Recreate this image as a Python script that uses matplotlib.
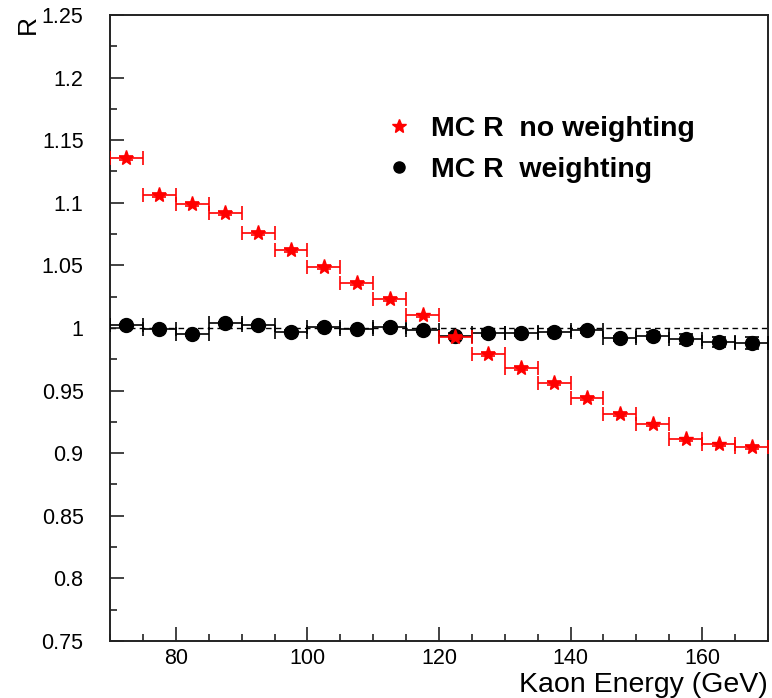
import matplotlib
matplotlib.use("Agg")
import matplotlib.pyplot as plt
import numpy as np
from matplotlib.lines import Line2D
from matplotlib.ticker import MultipleLocator, FuncFormatter

plt.rcParams['font.family'] = ['Liberation Sans', 'DejaVu Sans']

# --- Data: 5 GeV bins from 70 to 170 GeV ---
bin_centers = [72.5, 77.5, 82.5, 87.5, 92.5, 97.5, 102.5, 107.5, 112.5, 117.5,
               122.5, 127.5, 132.5, 137.5, 142.5, 147.5, 152.5, 157.5, 162.5, 167.5]
bin_halfwidth = 2.5

r_no_weight = [1.136, 1.106, 1.099, 1.092, 1.076, 1.062, 1.049, 1.036, 1.023, 1.010,
               0.993, 0.979, 0.968, 0.956, 0.944, 0.931, 0.923, 0.911, 0.907, 0.905]
r_no_weight_err = [0.0015] * 20

r_weight = [1.002, 0.999, 0.995, 1.004, 1.002, 0.997, 1.001, 0.999, 1.001, 0.998,
            0.994, 0.996, 0.996, 0.997, 0.998, 0.992, 0.994, 0.991, 0.989, 0.988]
r_weight_err = [0.001, 0.001, 0.001, 0.001, 0.001, 0.001, 0.001, 0.001, 0.0015, 0.0015,
                0.002, 0.002, 0.002, 0.002, 0.002, 0.002, 0.003, 0.004, 0.004, 0.005]

label_no = "MC R  no weighting"
label_w = "MC R  weighting"

fig = plt.figure(figsize=(7.72, 6.98), dpi=100)
ax = fig.add_axes([0.1425, 0.0817, 0.8523, 0.8968])

ax.axhline(1.0, color='black', linestyle=(0, (4, 3)), linewidth=1.0, zorder=1)

ax.errorbar(bin_centers, r_weight, xerr=bin_halfwidth, yerr=r_weight_err,
            fmt='o', color='black', markersize=10, elinewidth=1.2,
            capsize=5, capthick=1.2, zorder=3)
ax.errorbar(bin_centers, r_no_weight, xerr=bin_halfwidth, yerr=r_no_weight_err,
            fmt='*', color='red', markersize=11, elinewidth=1.2,
            capsize=5, capthick=1.2, zorder=4)

ax.set_xlim(70, 170)
ax.set_ylim(0.75, 1.25)

ax.xaxis.set_major_locator(MultipleLocator(20))
ax.xaxis.set_minor_locator(MultipleLocator(5))
ax.yaxis.set_major_locator(MultipleLocator(0.05))
ax.yaxis.set_minor_locator(MultipleLocator(0.025))
ax.yaxis.set_major_formatter(FuncFormatter(lambda v, p: f"{v:g}"))

ax.tick_params(which='both', direction='in', top=False, right=False,
               labelsize=15.5, colors='#222222', labelcolor='black')
ax.tick_params(which='major', length=10, width=1.2)
ax.tick_params(which='minor', length=5, width=1.2)
ax.tick_params(axis='y', which='major', pad=19)
ax.tick_params(axis='x', which='major', pad=5)

for sp in ax.spines.values():
    sp.set_linewidth(1.4)
    sp.set_color('#222222')

ax.set_xlabel("Kaon Energy (GeV)", fontsize=20.5, loc='right', labelpad=2)
fig.text(0.02, 0.978, "R", fontsize=19, rotation=90, ha='left', va='top')

handles = [Line2D([], [], marker='*', color='red', linestyle='none', markersize=10),
           Line2D([], [], marker='o', color='black', linestyle='none', markersize=8)]
ax.legend(handles, [label_no, label_w], loc='upper left',
          bbox_to_anchor=(0.379, 0.88), frameon=False,
          prop={'weight': 'bold', 'size': 20.5}, handlelength=1.0,
          handletextpad=0.6, labelspacing=0.55)

fig.savefig("out.png", dpi=100)
